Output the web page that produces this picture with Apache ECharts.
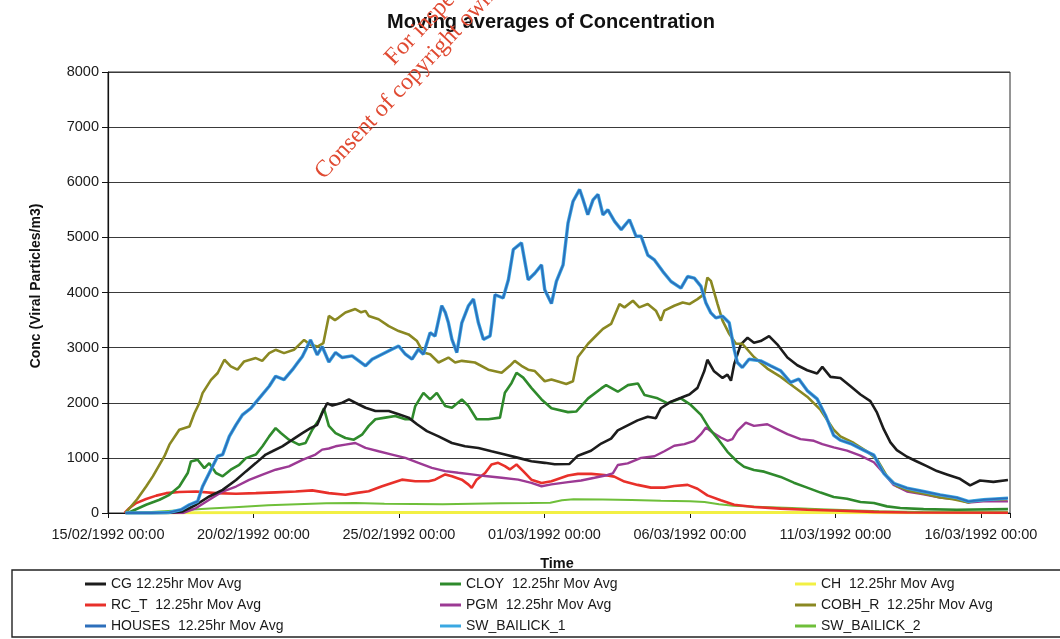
<!DOCTYPE html>
<html>
<head>
<meta charset="utf-8">
<script src="https://cdn.jsdelivr.net/npm/echarts@6/dist/echarts.min.js"></script>
<style>
  html, body { margin: 0; padding: 0; background: #ffffff; }
  #chart { width: 1060px; height: 639px; }
</style>
</head>
<body>
<div id="chart"></div>
<script>
// Time is measured in days after 15/02/1992 00:00; values are viral particles per m3.
const startDateUTC = Date.UTC(1992, 1, 15);
const xTickDays = [0, 5, 10, 15, 20, 25, 30];
const yTicks = [0, 1000, 2000, 3000, 4000, 5000, 6000, 7000, 8000];

const seriesNames = [
  'CG 12.25hr Mov Avg', 'CLOY  12.25hr Mov Avg', 'CH  12.25hr Mov Avg',
  'RC_T  12.25hr Mov Avg', 'PGM  12.25hr Mov Avg', 'COBH_R  12.25hr Mov Avg',
  'HOUSES  12.25hr Mov Avg', 'SW_BAILICK_1', 'SW_BAILICK_2'
];

const cgValues = [[0.6,0],[2.0,0],[2.57,30],[3.03,150],[3.48,300],[3.94,420],[4.4,600],[4.74,755],[5.08,905],[5.42,1060],[5.65,1120],[5.99,1210],[6.34,1330],[6.68,1450],[6.96,1540],[7.19,1600],[7.36,1810],[7.53,1990],[7.71,1950],[8.05,2000],[8.28,2060],[8.5,2000],[8.85,1910],[9.19,1850],[9.65,1850],[9.99,1790],[10.33,1730],[10.62,1610],[10.96,1485],[11.36,1390],[11.82,1270],[12.27,1210],[12.73,1180],[13.18,1120],[13.64,1060],[14.1,1000],[14.55,940],[15.01,910],[15.35,885],[15.86,890],[16.15,1040],[16.6,1130],[16.95,1260],[17.29,1350],[17.52,1500],[17.86,1590],[18.2,1680],[18.55,1745],[18.83,1720],[19.0,1900],[19.35,2020],[19.69,2090],[19.98,2150],[20.26,2270],[20.49,2570],[20.6,2780],[20.83,2570],[21.12,2450],[21.29,2510],[21.41,2400],[21.52,2700],[21.75,3060],[21.98,3180],[22.2,3090],[22.43,3120],[22.72,3210],[23.0,3060],[23.35,2820],[23.69,2680],[24.03,2590],[24.37,2530],[24.55,2650],[24.83,2470],[25.17,2450],[25.52,2300],[25.86,2150],[26.2,2030],[26.43,1820],[26.66,1520],[26.89,1280],[27.11,1140],[27.46,1020],[27.8,935],[28.14,850],[28.49,760],[28.83,700],[29.28,620],[29.63,500],[29.97,590],[30.43,565],[30.93,600]];

const cloyValues = [[0.68,0],[1.31,150],[1.77,240],[2.11,330],[2.45,480],[2.74,725],[2.85,935],[3.08,965],[3.31,815],[3.48,905],[3.71,725],[3.94,665],[4.22,785],[4.51,875],[4.74,995],[5.08,1060],[5.31,1210],[5.54,1390],[5.76,1540],[5.94,1450],[6.22,1330],[6.56,1240],[6.79,1270],[7.02,1510],[7.25,1690],[7.42,1900],[7.59,1580],[7.82,1450],[8.16,1360],[8.45,1330],[8.73,1420],[8.96,1580],[9.19,1700],[9.53,1730],[9.87,1760],[10.22,1700],[10.45,1700],[10.56,1940],[10.84,2180],[11.07,2060],[11.3,2180],[11.59,1940],[11.82,1910],[12.16,2060],[12.39,1940],[12.67,1700],[13.07,1700],[13.47,1730],[13.64,2180],[13.87,2360],[14.04,2545],[14.27,2455],[14.55,2270],[14.9,2060],[15.24,1900],[15.81,1830],[16.09,1840],[16.5,2080],[16.95,2260],[17.12,2320],[17.52,2200],[17.87,2320],[18.21,2350],[18.44,2140],[18.89,2080],[19.24,1990],[19.69,2080],[20.03,1960],[20.38,1780],[20.67,1530],[20.95,1350],[21.29,1110],[21.63,930],[21.86,840],[22.2,780],[22.55,750],[23.12,655],[23.57,550],[24.03,460],[24.49,370],[24.94,290],[25.4,260],[25.86,200],[26.32,180],[26.77,120],[27.23,90],[28.03,70],[29.17,60],[30.93,70]];

const chValues = [[0.6,0],[3.0,5],[8.0,10],[13.0,10],[18.0,10],[23.0,8],[28.0,5],[30.93,5]];

const rctValues = [[0.57,0],[0.74,90],[0.97,180],[1.31,255],[1.66,315],[2.0,360],[2.45,380],[3.03,390],[3.71,360],[4.4,350],[5.08,360],[5.76,375],[6.45,390],[7.02,410],[7.59,360],[8.16,330],[8.5,360],[8.96,395],[9.42,485],[9.76,545],[10.1,605],[10.56,575],[11.02,575],[11.24,605],[11.59,700],[11.82,665],[12.16,605],[12.39,515],[12.5,455],[12.67,605],[12.96,725],[13.18,880],[13.41,910],[13.64,850],[13.81,790],[14.04,880],[14.27,760],[14.55,605],[14.9,545],[15.24,575],[15.81,680],[16.15,710],[16.61,710],[17.06,690],[17.4,660],[17.75,570],[18.2,510],[18.66,460],[19.12,460],[19.46,490],[19.92,510],[20.26,440],[20.6,320],[21.06,230],[21.52,150],[22.2,110],[23.12,80],[24.03,60],[25.17,40],[26.32,20],[27.46,10],[30.93,5]];

const pgmValues = [[0.6,0],[2.57,0],[3.03,90],[3.48,240],[3.94,390],[4.4,480],[4.85,600],[5.31,695],[5.76,785],[6.22,845],[6.68,965],[7.13,1060],[7.36,1150],[7.59,1170],[7.82,1210],[8.16,1240],[8.5,1270],[8.85,1180],[9.3,1120],[9.76,1060],[10.22,1000],[10.67,910],[11.13,820],[11.59,760],[12.04,730],[12.5,700],[12.96,670],[13.53,640],[14.1,605],[14.55,545],[14.9,485],[15.24,520],[15.81,560],[16.26,590],[16.72,640],[17.17,690],[17.35,720],[17.52,870],[17.86,900],[18.32,1000],[18.78,1030],[19.12,1120],[19.46,1220],[19.81,1250],[20.15,1310],[20.38,1430],[20.55,1550],[20.78,1460],[21.06,1370],[21.29,1310],[21.46,1340],[21.63,1490],[21.92,1640],[22.2,1580],[22.66,1610],[22.89,1550],[23.35,1430],[23.8,1340],[24.26,1310],[24.55,1250],[24.94,1190],[25.4,1130],[25.86,1040],[26.32,920],[26.66,720],[27.0,510],[27.46,390],[28.03,340],[28.6,280],[29.17,250],[29.57,190],[30.08,210],[30.93,210]];

const cobhValues = [[0.6,0],[1.0,250],[1.31,480],[1.54,665],[1.94,1030],[2.11,1240],[2.45,1510],[2.8,1570],[2.97,1810],[3.14,1995],[3.25,2175],[3.54,2415],[3.77,2540],[4.0,2780],[4.22,2660],[4.45,2600],[4.68,2750],[5.08,2810],[5.3,2760],[5.54,2900],[5.76,2960],[6.05,2900],[6.39,2960],[6.74,3140],[6.96,3050],[7.2,3020],[7.4,3080],[7.59,3575],[7.8,3500],[7.93,3545],[8.16,3636],[8.5,3700],[8.7,3640],[8.85,3667],[8.96,3575],[9.3,3515],[9.65,3390],[9.99,3300],[10.33,3240],[10.62,3120],[10.84,2910],[11.07,2880],[11.36,2730],[11.7,2820],[11.93,2730],[12.16,2760],[12.61,2730],[13.07,2600],[13.53,2545],[13.81,2670],[13.98,2760],[14.21,2670],[14.44,2600],[14.67,2575],[15.01,2390],[15.24,2420],[15.5,2380],[15.75,2340],[15.98,2390],[16.15,2830],[16.5,3070],[16.78,3220],[17.01,3340],[17.29,3430],[17.58,3790],[17.75,3730],[18.04,3850],[18.26,3730],[18.55,3790],[18.83,3670],[19.0,3490],[19.12,3670],[19.46,3760],[19.75,3820],[19.98,3790],[20.26,3880],[20.49,3970],[20.6,4270],[20.72,4210],[20.95,3790],[21.12,3490],[21.35,3250],[21.58,3070],[21.8,3070],[22.2,2830],[22.66,2620],[23.12,2470],[23.57,2290],[24.03,2110],[24.49,1870],[24.94,1510],[25.17,1390],[25.63,1270],[26.08,1120],[26.43,970],[26.77,670],[27.11,490],[27.57,400],[28.14,340],[28.6,280],[29.05,250],[29.57,190],[29.74,220],[30.2,240],[30.9,250]];

const swBailick1Values = [[0.6,0],[1.5,0],[2.11,10],[2.51,60],[2.8,150],[3.08,210],[3.25,480],[3.48,725],[3.77,1030],[3.94,1060],[4.17,1390],[4.4,1600],[4.62,1780],[4.91,1900],[5.25,2115],[5.54,2300],[5.76,2480],[6.05,2420],[6.34,2600],[6.51,2720],[6.68,2840],[6.85,3020],[6.96,3140],[7.19,2870],[7.36,3020],[7.59,2740],[7.82,2910],[8.05,2820],[8.39,2850],[8.62,2760],[8.85,2670],[9.08,2790],[9.42,2880],[9.76,2970],[9.99,3030],[10.22,2880],[10.45,2790],[10.67,2970],[10.84,2880],[11.07,3270],[11.24,3210],[11.47,3760],[11.59,3640],[11.7,3450],[11.82,3150],[11.99,2910],[12.16,3450],[12.39,3760],[12.56,3880],[12.73,3450],[12.9,3150],[13.13,3210],[13.19,3440],[13.3,3960],[13.58,3900],[13.76,4230],[13.93,4780],[14.21,4900],[14.44,4230],[14.67,4350],[14.9,4500],[15.01,4050],[15.24,3800],[15.41,4200],[15.64,4500],[15.81,5260],[15.98,5650],[16.21,5870],[16.33,5680],[16.49,5410],[16.67,5680],[16.84,5780],[17.01,5410],[17.18,5500],[17.41,5290],[17.64,5140],[17.92,5320],[18.15,5020],[18.32,5020],[18.55,4680],[18.78,4590],[19.07,4380],[19.35,4200],[19.69,4080],[19.92,4290],[20.15,4260],[20.38,4110],[20.55,3810],[20.72,3630],[20.89,3540],[21.12,3570],[21.35,3450],[21.52,2970],[21.63,2730],[21.8,2640],[22.03,2790],[22.43,2760],[22.77,2670],[23.12,2580],[23.46,2370],[23.74,2430],[24.03,2220],[24.37,2070],[24.66,1770],[24.94,1410],[25.17,1320],[25.52,1260],[25.97,1140],[26.32,1050],[26.66,720],[27.0,540],[27.46,450],[28.03,390],[28.6,330],[29.17,280],[29.57,210],[30.08,240],[30.93,270]];

// HOUSES and SW_BAILICK_1 coincide over the whole period.
const housesValues = swBailick1Values;

const swBailick2Values = [[0.6,0],[1.5,20],[2.5,50],[3.5,80],[4.5,110],[5.5,140],[6.5,160],[7.5,175],[8.5,180],[9.5,170],[10.5,165],[11.5,160],[12.5,170],[13.5,175],[14.5,180],[15.2,185],[15.6,230],[16.0,250],[17.0,245],[18.0,235],[19.0,220],[20.0,215],[20.5,200],[21.0,160],[21.5,130],[22.5,110],[23.5,90],[24.5,70],[25.5,50],[26.5,30],[28.0,20],[30.93,15]];

const FONT = '"Liberation Sans", Arial, Helvetica, sans-serif';
const STAMP_FONT = '24px "Liberation Serif", "Times New Roman", serif';

function dayLabel(d) {
  const t = new Date(startDateUTC + d * 86400000);
  const dd = String(t.getUTCDate()).padStart(2, '0');
  const mm = String(t.getUTCMonth() + 1).padStart(2, '0');
  return dd + '/' + mm + '/' + t.getUTCFullYear() + ' 00:00';
}

function line(name, data, color, width, z) {
  return {
    name: name, type: 'line', data: data, symbol: 'none', z: z,
    lineStyle: { color: color, width: width }, itemStyle: { color: color },
    emphasis: { disabled: true }, animation: false
  };
}

const legendText = { fontSize: 14, fontFamily: FONT, color: '#1a1a1a' };
function legendColumn(left, names) {
  return {
    orient: 'vertical', left: left, top: 572, itemWidth: 21, itemHeight: 3,
    itemGap: 7, icon: 'rect', selectedMode: false, data: names, textStyle: legendText
  };
}

const chart = echarts.init(document.getElementById('chart'), null, { renderer: 'canvas' });
chart.setOption({
  backgroundColor: '#ffffff',
  animation: false,
  grid: { left: 108, right: 50, top: 72, bottom: 126, show: true, borderColor: '#2a2a2a', borderWidth: 1 },
  xAxis: {
    type: 'value', min: 0, max: 31, interval: 5,
    axisLine: { show: true, onZero: false, lineStyle: { color: '#111', width: 1.2 } },
    axisTick: { show: true, length: 5, lineStyle: { color: '#111' } },
    splitLine: { show: false },
    axisLabel: {
      margin: 14, fontSize: 14.5, fontFamily: FONT, color: '#1a1a1a',
      formatter: function (v) { return xTickDays.indexOf(v) >= 0 ? dayLabel(v) : ''; }
    }
  },
  yAxis: {
    type: 'value', min: yTicks[0], max: yTicks[yTicks.length - 1], interval: 1000,
    axisLine: { show: true, lineStyle: { color: '#111', width: 1.2 } },
    axisTick: { show: true, length: 6, lineStyle: { color: '#111' } },
    splitLine: { show: true, lineStyle: { color: '#3a3a3a', width: 1 } },
    axisLabel: {
      margin: 9, fontSize: 14.5, fontFamily: FONT, color: '#1a1a1a',
      formatter: function (v) { return String(v); }
    }
  },
  legend: [
    legendColumn(80, [seriesNames[0], seriesNames[3], seriesNames[6]]),
    legendColumn(435, [seriesNames[1], seriesNames[4], seriesNames[7]]),
    legendColumn(790, [seriesNames[2], seriesNames[5], seriesNames[8]])
  ],
  series: [
    line(seriesNames[2], chValues, '#f2f044', 3, 2),
    line(seriesNames[8], swBailick2Values, '#6fbf3a', 2, 3),
    line(seriesNames[3], rctValues, '#e8302a', 2.6, 4),
    line(seriesNames[4], pgmValues, '#9c3a94', 2.4, 5),
    line(seriesNames[1], cloyValues, '#2f8a2c', 2.6, 6),
    line(seriesNames[0], cgValues, '#1c1c1c', 2.6, 7),
    line(seriesNames[5], cobhValues, '#8a8822', 2.6, 8),
    line(seriesNames[7], swBailick1Values, '#3aa8e2', 3.4, 9),
    line(seriesNames[6], housesValues, '#2d6fbb', 1.8, 10)
  ],
  graphic: [
    {
      type: 'text', x: 551, y: 22, z: 50,
      style: { text: 'Moving averages of Concentration', font: 'bold 20px ' + FONT, fill: '#111', align: 'center', verticalAlign: 'middle' }
    },
    {
      type: 'text', x: 36, y: 286, rotation: Math.PI / 2, z: 50,
      style: { text: 'Conc (Viral Particles/m3)', font: 'bold 14px ' + FONT, fill: '#111', align: 'center', verticalAlign: 'middle' }
    },
    {
      type: 'text', x: 557, y: 564, z: 50,
      style: { text: 'Time', font: 'bold 14.5px ' + FONT, fill: '#111', align: 'center', verticalAlign: 'middle' }
    },
    {
      type: 'rect', z: 1,
      shape: { x: 12, y: 570, width: 1060, height: 67 },
      style: { fill: 'none', stroke: '#222', lineWidth: 1.4 }
    },
    {
      type: 'text', x: 398, y: 70, rotation: Math.PI * 0.26, z: 100,
      style: { text: 'For inspection purposes only.', font: STAMP_FONT, fill: '#e04a32', align: 'left', verticalAlign: 'bottom' }
    },
    {
      type: 'text', x: 328, y: 184, rotation: Math.PI * 0.26, z: 100,
      style: { text: 'Consent of copyright owner required for any other use.', font: STAMP_FONT, fill: '#e04a32', align: 'left', verticalAlign: 'bottom' }
    }
  ]
});
</script>
</body>
</html>
